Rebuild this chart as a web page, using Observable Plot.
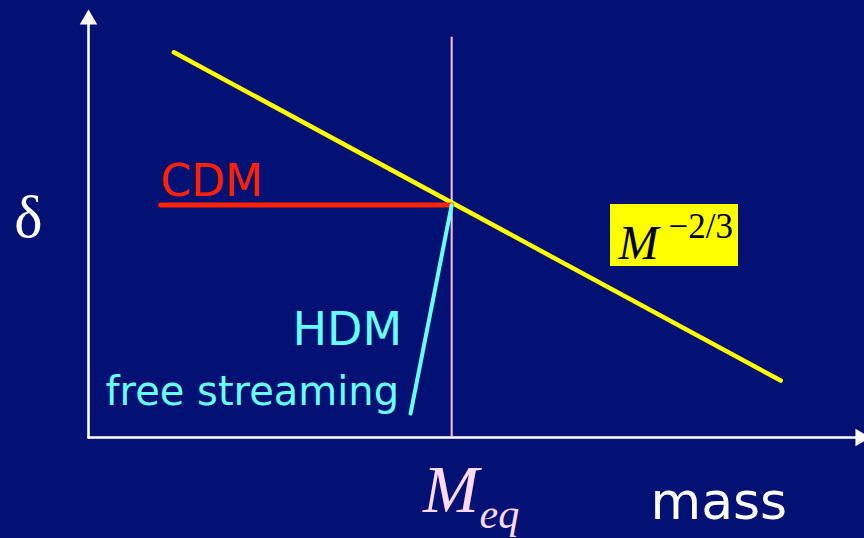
<!DOCTYPE html>
<html>
<head>
<meta charset="utf-8">
<script src="https://cdn.jsdelivr.net/npm/d3@7"></script>
<script src="https://cdn.jsdelivr.net/npm/@observablehq/plot@0.6"></script>
<style>
  html, body { margin: 0; padding: 0; background: #021173; }
  #chart svg { display: block; background: #021173; }
</style>
</head>
<body>
<div id="chart"></div>
<script>
// ---- data (schematic units: x = log mass, y = log delta) ----
const axisX = [0, 10];            // x axis extent
const axisY = [0, 10];            // y axis extent
const powerLawX = [1.10, 8.92];   // M^-2/3 line
const powerLawY = [9.00, 1.33];
const cdmX = [0.93, 4.68];        // CDM plateau
const cdmY = [5.43, 5.43];
const hdmX = [4.68, 4.15];        // HDM free-streaming cutoff
const hdmY = [5.43, 0.56];
const meqX = 4.68;                // M_eq marker
const meqTop = 9.35;

const labels = ["CDM", "HDM", "free streaming", "mass", "δ"];

const line = (xs, ys) => xs.map((x, i) => ({x, y: ys[i]}));

const serif = "'Liberation Serif', 'DejaVu Serif', serif";
const sans = "'DejaVu Sans', sans-serif";

const plot = Plot.plot({
  width: 864,
  height: 538,
  margin: 0,
  x: {domain: [0, 10], range: [88, 864], axis: null},
  y: {domain: [0, 10], range: [437, 9], axis: null},
  style: {background: "#021173", overflow: "visible"},
  marks: [
    // axes
    Plot.line(line([axisX[0], axisX[1] - 0.1], [0, 0]), {x: "x", y: "y", stroke: "white", strokeWidth: 2.6}),
    Plot.line(line([0, 0], [axisY[0], axisY[1] - 0.2]), {x: "x", y: "y", stroke: "white", strokeWidth: 2.6}),
    Plot.dot([{x: 0, y: axisY[1]}], {x: "x", y: "y", symbol: "triangle", r: 6.5, fill: "white", stroke: null, dy: 10}),
    Plot.dot([{x: axisX[1], y: 0}], {x: "x", y: "y", symbol: "triangle", r: 6.5, fill: "white", stroke: null, rotate: 90, dx: -4}),
    // M_eq vertical
    Plot.ruleX([meqX], {y1: 0, y2: meqTop, stroke: "#ffc4ff", strokeWidth: 2}),
    // power law
    Plot.line(line(powerLawX, powerLawY), {x: "x", y: "y", stroke: "#ffff00", strokeWidth: 4.5}),
    // CDM
    Plot.line(line(cdmX, cdmY), {x: "x", y: "y", stroke: "#ff2200", strokeWidth: 5}),
    // HDM
    Plot.line(line(hdmX, hdmY), {x: "x", y: "y", stroke: "#66ffff", strokeWidth: 4}),
    // yellow label box
    Plot.rect([{x1: 6.727, x2: 8.376, y1: 3.995, y2: 5.444}], {x1: "x1", x2: "x2", y1: "y1", y2: "y2", fill: "#ffff00"}),
    Plot.text(["M"], {x: 6.83, y: 4.182, fontSize: 48, fontStyle: "italic", fontFamily: serif, fill: "black", textAnchor: "start", lineAnchor: "bottom"}),
    Plot.text(["−2/3"], {x: 7.474, y: 4.650, fontSize: 35, fontFamily: serif, fill: "black", textAnchor: "start", lineAnchor: "bottom"}),
    // labels
    Plot.text([labels[0]], {x: 0.928, y: 5.631, fontSize: 44, fontFamily: sans, fill: "#ff2200", textAnchor: "start", lineAnchor: "bottom"}),
    Plot.text([labels[1]], {x: 2.629, y: 2.150, fontSize: 46, fontFamily: sans, fill: "#66ffff", textAnchor: "start", lineAnchor: "bottom"}),
    Plot.text([labels[2]], {x: 0.219, y: 0.748, fontSize: 40, fontFamily: sans, fill: "#66ffff", textAnchor: "start", lineAnchor: "bottom"}),
    Plot.text([labels[3]], {x: 7.242, y: -1.893, fontSize: 52, fontFamily: sans, fill: "white", textAnchor: "start", lineAnchor: "bottom"}),
    Plot.text([labels[4]], {x: -0.773, y: 4.673, fontSize: 60, fontFamily: serif, fill: "white", textAnchor: "middle", lineAnchor: "bottom"}),
    // M_eq label
    Plot.text(["M"], {x: 4.310, y: -1.729, fontSize: 67, fontStyle: "italic", fontFamily: serif, fill: "#ffd9ff", textAnchor: "start", lineAnchor: "bottom"}),
    Plot.text(["eq"], {x: 5.039, y: -2.103, fontSize: 42, fontStyle: "italic", fontFamily: serif, fill: "#ffd9ff", textAnchor: "start", lineAnchor: "bottom"})
  ]
});
document.getElementById("chart").appendChild(plot);
</script>
</body>
</html>
